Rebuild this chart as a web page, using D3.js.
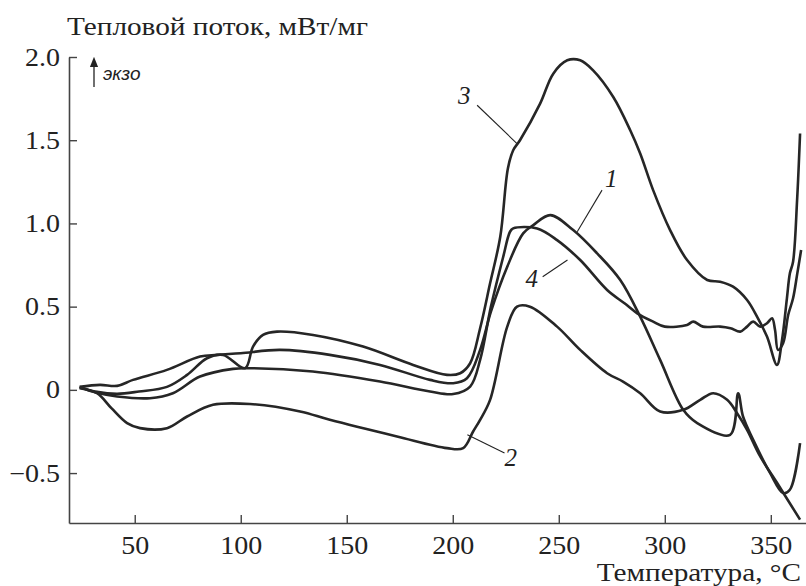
<!DOCTYPE html>
<html>
<head>
<meta charset="utf-8">
<script src="https://cdn.jsdelivr.net/npm/d3@7"></script>
<style>
  body { margin: 0; background: #fff; }
  svg text { font-family: 'Liberation Serif', 'Times New Roman', Tinos, 'DejaVu Serif', serif; }
  svg text.exo { font-family: 'Liberation Sans', Arial, sans-serif; font-style: italic; }
</style>
</head>
<body>
<script>
'use strict';

// temperatures (°C) and heat flow (mW/mg), one pair per curve
const temps1 = [24, 33.6, 41.7, 49.2, 65.2, 80.8, 88.8, 100, 118.5, 142, 165.7, 189.3, 200.2, 206.7, 212.9, 218, 225.7, 233.2, 238, 246, 256.8, 268.1, 279, 288.4, 297.8, 308.7, 315.3, 330.8, 334.6, 336.9, 341.7, 349.7, 355.8, 359, 363.8];
const flow1  = [0.018, 0.03, 0.024, 0.06, 0.12, 0.20, 0.21, 0.22, 0.24, 0.21, 0.15, 0.06, 0.04, 0.07, 0.24, 0.47, 0.74, 0.94, 0.99, 1.05, 0.96, 0.82, 0.66, 0.44, 0.18, -0.12, -0.20, -0.27, -0.02, -0.16, -0.30, -0.50, -0.62, -0.60, -0.32];

const temps2 = [24, 32.2, 39, 46.4, 52.5, 65.2, 74.7, 86.9, 104.4, 128, 142, 173.7, 197.3, 204.9, 209.6, 212.9, 217.6, 225.7, 230.3, 236.4, 249.2, 260.1, 272.8, 280.3, 288.4, 297.8, 308.7, 316.7, 322.8, 329.4, 334.1, 338.8, 345, 353, 363.8];
const flow2  = [0.01, -0.02, -0.11, -0.2, -0.23, -0.23, -0.16, -0.09, -0.085, -0.13, -0.18, -0.28, -0.35, -0.35, -0.25, -0.18, -0.06, 0.38, 0.50, 0.50, 0.38, 0.24, 0.10, 0.05, -0.02, -0.13, -0.12, -0.06, -0.02, -0.06, -0.14, -0.24, -0.40, -0.56, -0.78];

const temps3 = [24, 32.2, 41.7, 52, 65.2, 74.7, 84.1, 91.7, 102, 105.8, 110.5, 117.1, 134.1, 157.7, 181.3, 197.3, 203.5, 208.2, 212.9, 217.6, 222.4, 226, 228.5, 231.7, 241.2, 247.4, 254, 260.1, 266.2, 275.7, 283.7, 288.4, 294.5, 302.5, 310.5, 320, 326.1, 332.2, 338.8, 343.5, 348.2, 352.9, 355.3, 357.6, 359, 360.5, 362.4, 363.8];
const flow3  = [0.018, -0.012, -0.024, -0.01, 0.018, 0.09, 0.19, 0.21, 0.13, 0.26, 0.33, 0.35, 0.33, 0.26, 0.15, 0.09, 0.10, 0.16, 0.37, 0.64, 0.92, 1.33, 1.44, 1.50, 1.72, 1.90, 1.98, 1.98, 1.92, 1.76, 1.56, 1.42, 1.20, 0.96, 0.78, 0.66, 0.65, 0.62, 0.54, 0.44, 0.32, 0.15, 0.30, 0.55, 0.70, 0.77, 1.14, 1.54];

const temps4 = [24, 32.2, 41.7, 57.2, 68, 80.8, 96.4, 103, 134, 165.7, 189.3, 200.2, 208.2, 212.9, 218, 223.8, 227, 228.5, 239.8, 249.2, 260.1, 272.8, 281, 287, 294.5, 300, 310.5, 313.4, 318, 326.1, 331, 335.6, 338.8, 341.7, 345, 348.2, 350.6, 352, 353.4, 355.8, 358.2, 360.5, 362.5, 364.3];
const flow4  = [0.015, -0.018, -0.04, -0.05, -0.02, 0.08, 0.126, 0.13, 0.11, 0.05, -0.01, -0.025, 0.02, 0.18, 0.5, 0.80, 0.95, 0.97, 0.97, 0.90, 0.78, 0.60, 0.52, 0.46, 0.41, 0.38, 0.39, 0.41, 0.38, 0.38, 0.37, 0.35, 0.38, 0.41, 0.38, 0.40, 0.43, 0.36, 0.24, 0.28, 0.45, 0.55, 0.70, 0.84];

const xTicks = [50, 100, 150, 200, 250, 300, 350];
const yTicks = [-0.5, 0, 0.5, 1.0, 1.5, 2.0];
const yTickLabels = ['\u22120.5', '0', '0.5', '1.0', '1.5', '2.0'];

// curve number labels: where the number sits and where its pointer touches the curve (data units)
const labelNames = ['3', '1', '4', '2'];
const labelAt    = [[202.5, 1.72], [271.8, 1.22], [234.3, 0.62], [224.4, -0.46]];
const pointFrom  = [[211.5, 1.71], [270.4, 1.20], [242.4, 0.68], [224.4, -0.38]];
const pointTo    = [[230.3, 1.48], [258.7, 0.95], [254.1, 0.78], [206.9, -0.27]];

const width = 806, height = 586;

const svg = d3.select('body').append('svg')
  .attr('width', width)
  .attr('height', height);

const x = d3.scaleLinear().domain([19, 366.6]).range([69, 806]);
const y = d3.scaleLinear().domain([-0.8, 2.0]).range([523, 57]);

// the original typeface is a Times-like face set somewhat wider, so stretch the text a little
function widen(sel, k) {
  sel.each(function() {
    const w = this.getComputedTextLength();
    d3.select(this)
      .attr('textLength', w * k)
      .attr('lengthAdjust', 'spacingAndGlyphs');
  });
}

// axes, ticks pointing inward
const xAxis = svg.append('g')
  .attr('transform', 'translate(0,' + y(-0.8) + ')')
  .call(d3.axisBottom(x).tickValues(xTicks).tickSize(-8).tickPadding(13).tickSizeOuter(0));

const yAxis = svg.append('g')
  .attr('transform', 'translate(' + x(19) + ',0)')
  .call(d3.axisLeft(y).tickValues(yTicks).tickSize(-8).tickPadding(9).tickSizeOuter(0)
    .tickFormat((d, i) => yTickLabels[i]));

[xAxis, yAxis].forEach(g => {
  g.attr('font-family', null);
  g.select('.domain').attr('stroke', '#444').attr('stroke-width', 1.6);
  g.selectAll('.tick line').attr('stroke', '#444').attr('stroke-width', 1.4);
  g.selectAll('.tick text')
    .attr('fill', '#222')
    .style('font-size', '25px')
    .call(widen, 1.12);
});

// curves
const line = d3.line()
  .x(d => x(d[0]))
  .y(d => y(d[1]))
  .curve(d3.curveCatmullRom.alpha(0.5));

const series = [[temps1, flow1], [temps2, flow2], [temps3, flow3], [temps4, flow4]];
series.forEach(s => {
  svg.append('path')
    .datum(d3.zip(s[0], s[1]))
    .attr('d', line)
    .attr('fill', 'none')
    .attr('stroke', '#262626')
    .attr('stroke-width', 2.6)
    .attr('stroke-linejoin', 'round');
});

// curve labels with pointer lines
labelNames.forEach((name, i) => {
  svg.append('line')
    .attr('x1', x(pointFrom[i][0])).attr('y1', y(pointFrom[i][1]))
    .attr('x2', x(pointTo[i][0])).attr('y2', y(pointTo[i][1]))
    .attr('stroke', '#222')
    .attr('stroke-width', 1.1);
  svg.append('text')
    .attr('x', x(labelAt[i][0]))
    .attr('y', y(labelAt[i][1]))
    .style('font-style', 'italic')
    .style('font-size', '25px')
    .attr('fill', '#222')
    .text(name);
});

// titles
svg.append('text')
  .attr('x', 67)
  .attr('y', 35)
  .style('font-size', '25px')
  .attr('fill', '#222')
  .text('Тепловой поток, мВт/мг')
  .call(widen, 1.17);

svg.append('text')
  .attr('x', 801)
  .attr('y', 581)
  .attr('text-anchor', 'end')
  .style('font-size', '25px')
  .attr('fill', '#222')
  .text('Температура, °C')
  .call(widen, 1.17);

// exo arrow
svg.append('defs').append('marker')
  .attr('id', 'head')
  .attr('viewBox', '0 0 10 10')
  .attr('refX', 5).attr('refY', 5)
  .attr('markerWidth', 8).attr('markerHeight', 8)
  .attr('orient', 'auto')
  .append('path')
  .attr('d', 'M0,1 L10,5 L0,9 Z')
  .attr('fill', '#222');

svg.append('line')
  .attr('x1', 94).attr('y1', 87)
  .attr('x2', 94).attr('y2', 62)
  .attr('stroke', '#222')
  .attr('stroke-width', 1.3)
  .attr('marker-end', 'url(#head)');

svg.append('text')
  .attr('class', 'exo')
  .attr('x', 103)
  .attr('y', 80)
  .style('font-size', '19px')
  .attr('fill', '#222')
  .text('экзо');
</script>
</body>
</html>
